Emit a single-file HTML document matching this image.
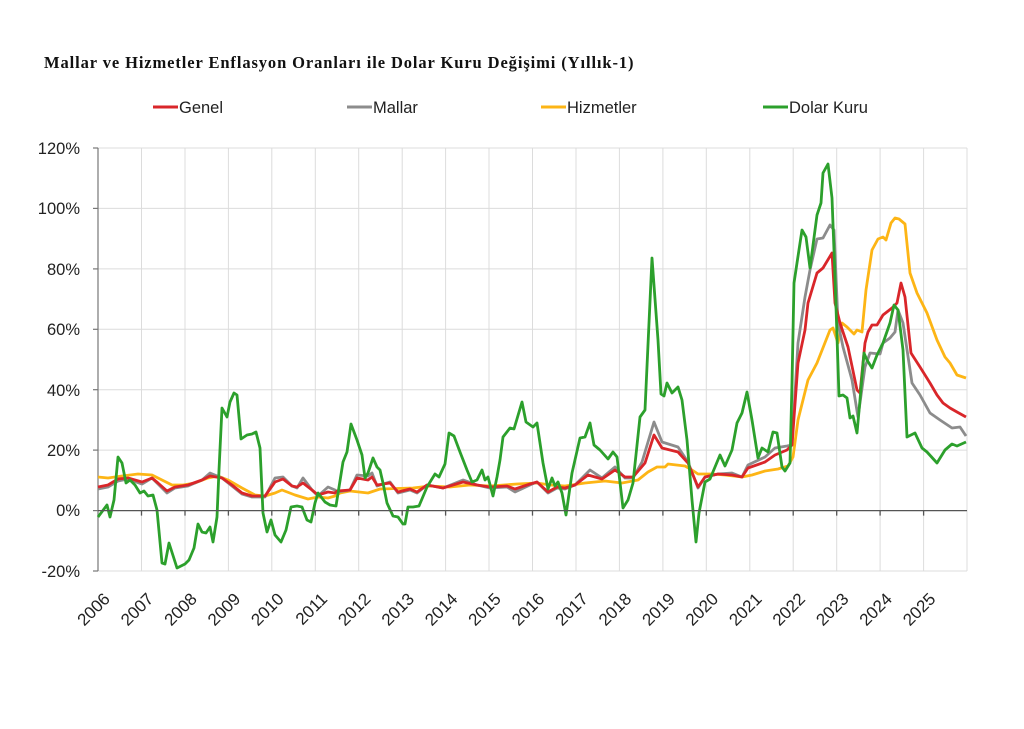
<!DOCTYPE html>
<html><head><meta charset="utf-8"><style>
body{margin:0;background:#fff;}
svg text{font-family:"Liberation Sans",sans-serif;fill:#222;}
</style></head><body>
<svg width="1024" height="724" viewBox="0 0 1024 724" xmlns="http://www.w3.org/2000/svg">
<rect width="1024" height="724" fill="#fff"/>
<text x="44" y="68" style="font-family:'Liberation Serif',serif;font-weight:bold;font-size:16.5px;letter-spacing:0.9px;fill:#111">Mallar ve Hizmetler Enflasyon Oranları ile Dolar Kuru Değişimi (Yıllık-1)</text>
<g font-size="16.5">
<line x1="153" y1="107" x2="178" y2="107" stroke="#d9262a" stroke-width="3"/><text x="179" y="113">Genel</text>
<line x1="347" y1="107" x2="372" y2="107" stroke="#8c8c8c" stroke-width="3"/><text x="373" y="113">Mallar</text>
<line x1="541" y1="107" x2="566" y2="107" stroke="#fdb515" stroke-width="3"/><text x="567" y="113">Hizmetler</text>
<line x1="763" y1="107" x2="788" y2="107" stroke="#2ca02c" stroke-width="3"/><text x="789" y="113">Dolar Kuru</text>
</g>
<g stroke="#dcdcdc" stroke-width="1">
<line x1="98" y1="148" x2="967" y2="148"/><line x1="98" y1="208.4" x2="967" y2="208.4"/><line x1="98" y1="268.9" x2="967" y2="268.9"/><line x1="98" y1="329.3" x2="967" y2="329.3"/><line x1="98" y1="389.7" x2="967" y2="389.7"/><line x1="98" y1="450.1" x2="967" y2="450.1"/><line x1="98" y1="571" x2="967" y2="571"/>
<line x1="141.5" y1="148" x2="141.5" y2="571"/><line x1="185" y1="148" x2="185" y2="571"/><line x1="228.4" y1="148" x2="228.4" y2="571"/><line x1="271.8" y1="148" x2="271.8" y2="571"/><line x1="315.3" y1="148" x2="315.3" y2="571"/><line x1="358.7" y1="148" x2="358.7" y2="571"/><line x1="402.2" y1="148" x2="402.2" y2="571"/><line x1="445.6" y1="148" x2="445.6" y2="571"/><line x1="489" y1="148" x2="489" y2="571"/><line x1="532.5" y1="148" x2="532.5" y2="571"/><line x1="576" y1="148" x2="576" y2="571"/><line x1="619.4" y1="148" x2="619.4" y2="571"/><line x1="662.9" y1="148" x2="662.9" y2="571"/><line x1="706.3" y1="148" x2="706.3" y2="571"/><line x1="749.8" y1="148" x2="749.8" y2="571"/><line x1="793.2" y1="148" x2="793.2" y2="571"/><line x1="836.7" y1="148" x2="836.7" y2="571"/><line x1="880.1" y1="148" x2="880.1" y2="571"/><line x1="923.6" y1="148" x2="923.6" y2="571"/><line x1="967" y1="148" x2="967" y2="571"/>
</g>
<g stroke="#777" stroke-width="1.2">
<line x1="98" y1="148" x2="98" y2="571"/>
<line x1="93" y1="148" x2="98" y2="148"/><line x1="93" y1="208.4" x2="98" y2="208.4"/><line x1="93" y1="268.9" x2="98" y2="268.9"/><line x1="93" y1="329.3" x2="98" y2="329.3"/><line x1="93" y1="389.7" x2="98" y2="389.7"/><line x1="93" y1="450.1" x2="98" y2="450.1"/><line x1="93" y1="510.6" x2="98" y2="510.6"/><line x1="93" y1="571" x2="98" y2="571"/>
</g>
<g font-size="16.5" text-anchor="end">
<text x="80" y="154">120%</text><text x="80" y="214">100%</text><text x="80" y="275">80%</text><text x="80" y="335">60%</text><text x="80" y="396">40%</text><text x="80" y="456">20%</text><text x="80" y="516">0%</text><text x="80" y="577">-20%</text>
</g>
<g fill="none" stroke-linejoin="round" stroke-width="2.8">
<polyline stroke="#fdb515" points="98,477 108,478 122,476 138,474 152,475 162,480 172,485 183,485 195,483 208,478 218,476 228,480 242,488 255,495 265,496 275,493 282,490 295,495 308,499 318,497 328,498 335,496 340,493 350,491 368,493 380,489 413,488 430,486 450,487 470,485 490,486 517,484 537,483 550,485 565,486 585,483 605,481 622,483 638,480 648,472 657,467 665,467 668,464 685,466 692,470 698,474 712,474 725,475 742,477 752,475 765,471 778,469 788,466 793,457 798,420 808,380 817,363 830,330 833,328 838,343 842,323 847,327 854,334 857,330 862,332 866,290 872,250 878,239 883,237 886,240 891,223 895,218 899,219 905,224 910,273 917,293 927,313 937,340 945,357 950,363 957,375 966,378"/>
<polyline stroke="#8c8c8c" points="98,489 108,487 118,481 128,479 142,484 152,478 158,484 167,493 175,488 188,486 202,480 210,473 222,478 232,486 242,494 252,497 265,497 275,478 283,477 292,486 297,488 303,478 312,490 318,496 328,487 335,490 337,492 350,490 357,475 368,476 372,473 377,486 390,482 398,493 410,490 417,493 427,485 443,488 463,480 477,485 490,488 507,487 515,492 530,485 537,482 548,493 557,488 565,489 575,485 590,470 602,478 615,467 625,478 633,478 642,462 654,422 662,442 678,447 688,462 698,488 705,477 718,474 732,473 742,477 748,465 765,457 775,448 787,446 792,445 798,343 805,297 810,270 817,239 823,238 830,225 834,230 838,323 843,347 852,380 858,417 865,367 870,353 880,354 883,343 890,338 895,332 898,310 903,323 912,383 920,395 930,413 940,420 952,428 960,427 966,436"/>
<polyline stroke="#d9262a" points="98,487 108,485 118,479 128,478 142,482 152,478 158,483 167,491 175,487 188,485 202,480 210,476 222,478 232,485 242,493 252,496 265,496 275,482 283,479 292,486 297,487 303,483 312,490 318,495 328,492 335,493 337,491 350,490 357,478 368,480 372,477 377,485 390,483 398,492 410,489 417,492 427,485 443,488 463,482 477,485 490,487 507,486 515,489 530,484 537,482 548,492 557,487 565,488 575,485 588,475 602,479 615,470 625,477 633,477 645,463 654,435 662,448 678,452 688,463 698,487 705,477 718,474 732,475 742,477 748,468 765,462 775,455 787,450 792,445 798,363 805,330 808,303 817,273 823,268 832,253 835,303 840,323 848,347 857,390 860,393 865,343 868,332 872,325 877,325 883,315 892,308 897,303 901,283 905,297 911,353 920,367 930,383 937,395 943,403 950,408 957,412 966,417"/>
<polyline stroke="#2ca02c" points="98,517 107,505 110,517 114,500 118,457 122,463 126,483 130,480 135,485 140,493 144,491 148,496 153,495 157,510 162,563 165,564 169,543 177,568 185,564 189,560 194,548 198,524 202,532 206,533 210,527 213,542 217,517 219,470 222,408 227,417 230,402 234,393 237,395 241,439 247,435 252,434 256,432 260,448 263,513 267,532 271,520 275,535 281,542 286,530 291,507 297,506 302,507 307,520 311,522 315,503 318,493 325,502 330,505 336,506 343,462 347,452 351,424 357,440 362,455 365,478 368,473 373,458 377,467 380,470 383,483 387,503 393,516 398,517 403,524 405,524 408,507 413,507 419,506 427,487 435,474 439,477 445,464 449,433 454,436 460,452 467,470 472,482 477,480 482,470 485,480 488,477 493,496 497,477 500,460 503,437 510,428 514,429 522,402 526,422 533,427 537,423 543,463 548,489 552,478 555,486 558,482 562,493 566,515 572,473 580,438 585,437 590,423 594,445 600,450 608,459 613,452 617,457 623,508 628,500 633,483 640,417 645,410 652,258 658,340 661,394 664,396 667,383 672,393 678,387 682,400 687,440 692,500 696,542 699,513 705,482 710,479 715,467 720,455 725,466 732,450 737,423 742,413 747,392 752,420 758,458 762,448 768,452 773,432 777,433 782,467 785,471 790,463 792,383 794,283 797,263 802,230 806,237 810,268 817,215 821,203 823,173 828,164 832,198 835,277 839,396 843,395 847,398 850,418 853,416 857,433 860,400 864,353 867,360 872,368 877,355 883,343 890,323 894,305 898,310 903,350 907,437 915,433 922,448 927,452 937,463 945,450 952,444 957,446 966,442"/>
</g>
<g stroke="#555" stroke-width="1.3">
<line x1="98" y1="510.6" x2="967" y2="510.6"/>
<path d="M141.5 510.6v5M185 510.6v5M228.4 510.6v5M271.8 510.6v5M315.3 510.6v5M358.7 510.6v5M402.2 510.6v5M445.6 510.6v5M489 510.6v5M532.5 510.6v5M576 510.6v5M619.4 510.6v5M662.9 510.6v5M706.3 510.6v5M749.8 510.6v5M793.2 510.6v5M836.7 510.6v5M880.1 510.6v5M923.6 510.6v5"/>
</g>
<g font-size="17" text-anchor="end">
<text transform="translate(111,600) rotate(-45)">2006</text>
<text transform="translate(154.5,600) rotate(-45)">2007</text>
<text transform="translate(198,600) rotate(-45)">2008</text>
<text transform="translate(241.4,600) rotate(-45)">2009</text>
<text transform="translate(284.8,600) rotate(-45)">2010</text>
<text transform="translate(328.3,600) rotate(-45)">2011</text>
<text transform="translate(371.7,600) rotate(-45)">2012</text>
<text transform="translate(415.2,600) rotate(-45)">2013</text>
<text transform="translate(458.6,600) rotate(-45)">2014</text>
<text transform="translate(502,600) rotate(-45)">2015</text>
<text transform="translate(545.5,600) rotate(-45)">2016</text>
<text transform="translate(589,600) rotate(-45)">2017</text>
<text transform="translate(632.4,600) rotate(-45)">2018</text>
<text transform="translate(675.9,600) rotate(-45)">2019</text>
<text transform="translate(719.3,600) rotate(-45)">2020</text>
<text transform="translate(762.8,600) rotate(-45)">2021</text>
<text transform="translate(806.2,600) rotate(-45)">2022</text>
<text transform="translate(849.7,600) rotate(-45)">2023</text>
<text transform="translate(893.1,600) rotate(-45)">2024</text>
<text transform="translate(936.6,600) rotate(-45)">2025</text>
</g>
</svg>
</body></html>
